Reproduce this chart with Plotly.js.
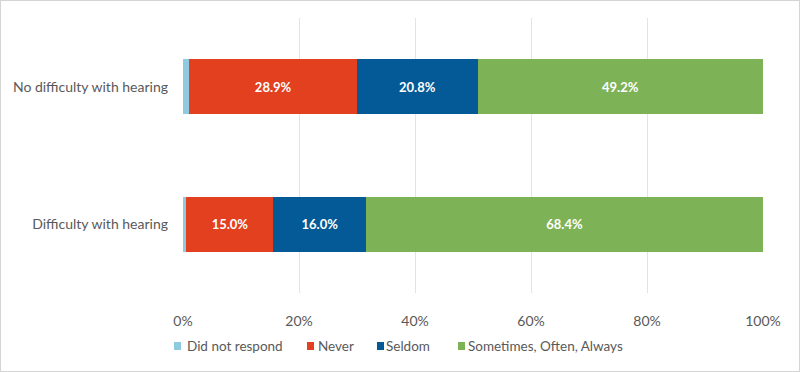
<!DOCTYPE html>
<html>
<head>
<meta charset="utf-8">
<script src="https://cdn.plot.ly/plotly-3.0.1.min.js"></script>
<style>
html,body{margin:0;padding:0;background:#fff;}
#wrap{position:relative;width:800px;height:372px;}
#chart{width:800px;height:372px;}
#frame{position:absolute;left:0;top:0;width:798px;height:370px;border:1px solid #d4d4d4;pointer-events:none;}
</style>
</head>
<body>
<div id="wrap"><div id="chart"></div><div id="frame"></div></div>
<script>
const categories = ["Difficulty with hearing", "No difficulty with hearing"];
const seriesNames = ["Did not respond", "Never", "Seldom", "Sometimes, Often, Always"];
const didNotRespond = [0.6, 1.1];
const never = [15.0, 28.9];
const seldom = [16.0, 20.8];
const sometimes = [68.4, 49.2];
const xTickVals = [0, 20, 40, 60, 80, 100];
const xTickText = ["0%", "20%", "40%", "60%", "80%", "100%"];

const colors = ["#8ecae0", "#e2401f", "#045a97", "#7eb256"];
const values = [didNotRespond, never, seldom, sometimes];
const FONT = "Lato, 'Open Sans', sans-serif";

const traces = values.map((v, i) => ({
  type: "bar",
  orientation: "h",
  name: seriesNames[i],
  y: categories,
  x: v,
  marker: {color: colors[i]},
  text: i === 0 ? v.map(() => "") : v.map(d => d.toFixed(1) + "%"),
  textposition: i === 0 ? "none" : "inside",
  insidetextanchor: "middle",
  textfont: {family: FONT, size: 13, color: "#ffffff", weight: "bold"},
  hoverinfo: "skip",
  showlegend: false,
  width: 0.4
}));

// custom legend (compact, like the reference)
const L = 183, W = 580, B = 293, H = 275;
const px = x => (x - L) / W;
const py = y => (B - y) / H;
const legendSquareX = [174, 307, 377, 458];
const legendTextX = [185, 316, 384, 466];
const legendY = 346;
const shapes = [], annotations = [];
seriesNames.forEach((n, i) => {
  shapes.push({type: "rect", xref: "paper", yref: "paper",
    x0: px(legendSquareX[i]), x1: px(legendSquareX[i] + 7),
    y0: py(legendY + 4), y1: py(legendY - 4),
    fillcolor: colors[i], line: {width: 0}});
  annotations.push({xref: "paper", yref: "paper", x: px(legendTextX[i]), y: py(legendY),
    xanchor: "left", yanchor: "middle", text: n, showarrow: false,
    font: {family: FONT, size: 13.5, color: "#595959"}});
});

const layout = {
  barmode: "stack",
  width: 800,
  height: 372,
  margin: {l: 183, r: 37, t: 18, b: 79},
  paper_bgcolor: "#ffffff",
  plot_bgcolor: "#ffffff",
  font: {family: FONT, size: 14, color: "#595959"},
  showlegend: false,
  shapes: shapes,
  annotations: annotations,
  xaxis: {
    range: [0, 100],
    tickvals: xTickVals,
    ticktext: xTickText,
    showgrid: true,
    gridcolor: "#e3e3e3",
    gridwidth: 1,
    zeroline: false,
    showline: false,
    ticks: "",
    ticklabelstandoff: 18,
    tickfont: {size: 14, color: "#595959"},
    fixedrange: true
  },
  yaxis: {
    range: [-0.5, 1.5],
    showgrid: false,
    zeroline: false,
    showline: false,
    ticks: "",
    ticklabelstandoff: 14,
    tickfont: {size: 14, color: "#595959"},
    fixedrange: true
  }
};

Plotly.newPlot("chart", traces, layout, {displayModeBar: false, staticPlot: true});
</script>
</body>
</html>
